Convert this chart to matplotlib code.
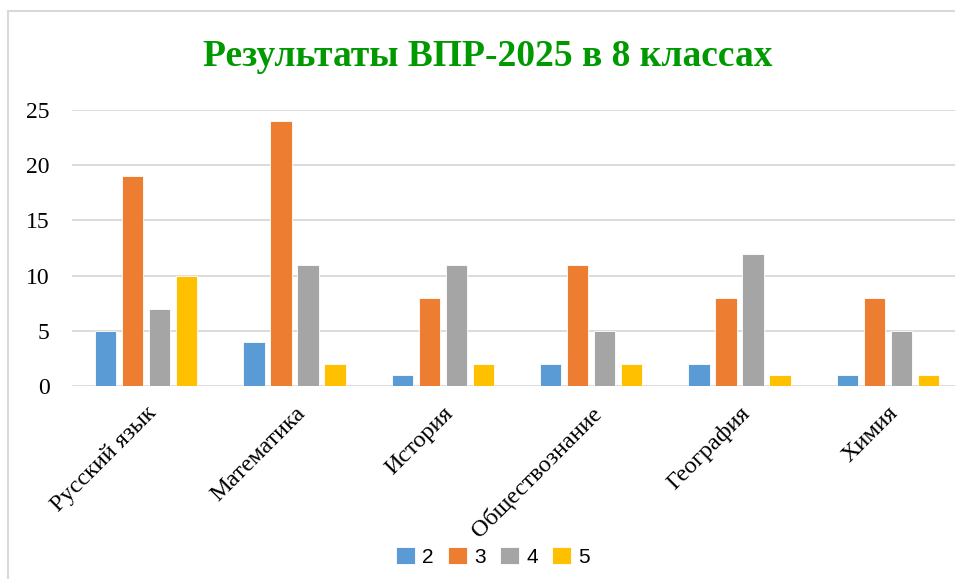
import matplotlib
matplotlib.use("Agg")
from matplotlib import pyplot as plt
from matplotlib.patches import Rectangle
import numpy as np

subjects = ['Русский язык', 'Математика', 'История', 'Обществознание', 'География', 'Химия']
grades = ['2', '3', '4', '5']
grade_2 = [5, 4, 1, 2, 2, 1]
grade_3 = [19, 24, 8, 11, 8, 8]
grade_4 = [7, 11, 11, 5, 12, 5]
grade_5 = [10, 2, 2, 2, 1, 1]
series = [grade_2, grade_3, grade_4, grade_5]
colors = ['#5B9BD5', '#ED7D31', '#A5A5A5', '#FFC000']

W, H = 955, 579
fig = plt.figure(figsize=(W / 100, H / 100), dpi=100)

# frame around the chart (goes off the right/bottom edge like in the screenshot)
fig.patches.append(Rectangle((8 / W, -0.05), 1.2, 1 - 11 / H + 0.05, transform=fig.transFigure,
                             fill=False, edgecolor='#D9D9D9', linewidth=1.5))

ax = fig.add_axes([72 / W, 193 / H, 890 / W, 276 / H])

x = np.arange(len(subjects))
step = 0.182
width = 0.142
for i, vals in enumerate(series):
    ax.bar(x + (i - 1.5) * step, vals, width, color=colors[i], label=grades[i],
           edgecolor='white', linewidth=0.6, zorder=3)

ax.set_xlim(-0.5, len(subjects) - 0.5)
ax.set_ylim(0, 25)
ax.set_yticks([0, 5, 10, 15, 20, 25])
ax.yaxis.grid(True, color='#D9D9D9', linewidth=1.3, zorder=0)
ax.set_axisbelow(True)
for s in ['top', 'right', 'left', 'bottom']:
    ax.spines[s].set_visible(False)
ax.tick_params(axis='both', length=0)
ax.tick_params(axis='y', pad=16)

for lab in ax.get_yticklabels():
    lab.set_fontfamily('Liberation Serif')
    lab.set_fontsize(17)

ax.set_xticks(x)
ax.set_xticklabels(subjects, rotation=45, ha='right', rotation_mode='anchor',
                   family='Liberation Serif', fontsize=17.5)
ax.tick_params(axis='x', pad=12)

fig.text(488 / W, 1 - 57 / H, 'Результаты ВПР-2025 в 8 классах', ha='center', va='center',
         family='Liberation Serif', fontweight='bold', fontsize=27, color='#009900')

leg = fig.legend(loc='center', bbox_to_anchor=(493 / W, 1 - 557 / H), ncol=4, frameon=False,
                 prop={'family': 'Liberation Sans', 'size': 15}, handlelength=0.9, handleheight=0.9,
                 handletextpad=0.35, columnspacing=0.7)

plt.savefig('out.png', dpi=100)
